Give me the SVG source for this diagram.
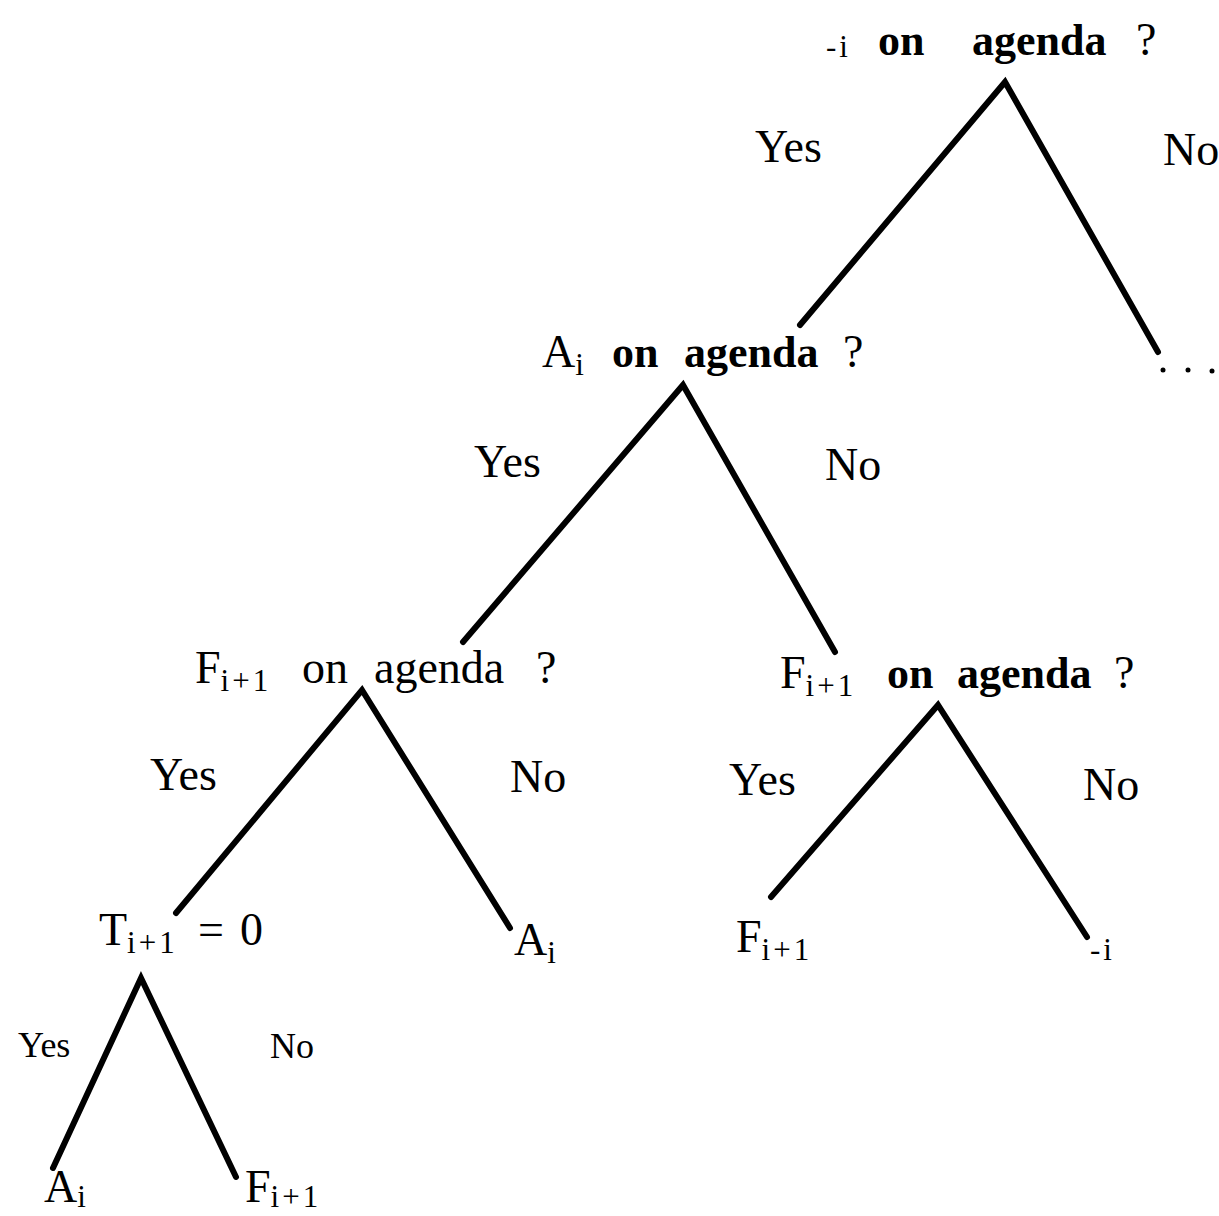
<svg xmlns="http://www.w3.org/2000/svg" width="1219" height="1216" viewBox="0 0 1219 1216">
<style>
text{font-family:"Liberation Serif","Times New Roman",serif;fill:#000}
.t{font-size:46px}
.b{font-size:44px;font-weight:bold}
.s{font-size:31px;letter-spacing:3px}
.l{font-size:36px}
.e{stroke:#000;stroke-width:6;stroke-linecap:round;fill:none}
</style>
<rect width="1219" height="1216" fill="#fff"/>
<g id="connectors">
<path class="e" d="M800,325 L1005,82 L1158,352"/>
<path class="e" d="M463,642 L683,385 L835,652"/>
<path class="e" d="M176,913 L362,690 L510,928"/>
<path class="e" d="M771,897 L938,705 L1087,937"/>
<path class="e" d="M53,1168 L141,978 L236,1177"/>
<text class="t" x="755" y="162">Yes</text>
<text class="t" x="1163" y="165">No</text>
<text class="t" x="474" y="477">Yes</text>
<text class="t" x="825" y="480">No</text>
<text class="t" x="150" y="790">Yes</text>
<text class="t" x="510" y="792">No</text>
<text class="t" x="729" y="795">Yes</text>
<text class="t" x="1083" y="800">No</text>
<text class="l" x="18" y="1057">Yes</text>
<text class="l" x="270" y="1058">No</text>
</g>
<g id="n1">
<text class="s" x="826" y="57">-i</text>
<text class="b" x="878" y="55">on</text>
<text class="b" x="972" y="55">agenda</text>
<text class="t" x="1136" y="55">?</text>
</g>
<g id="n1no">
<circle cx="1163" cy="370" r="2.5"/>
<circle cx="1188" cy="370" r="2.5"/>
<circle cx="1212" cy="371" r="2.5"/>
</g>
<g id="n2">
<text class="t" x="542" y="367">A<tspan class="s" dy="8">i</tspan></text>
<text class="b" x="612" y="367">on</text>
<text class="b" x="684" y="367">agenda</text>
<text class="t" x="843" y="367">?</text>
</g>
<g id="n3">
<text class="t" x="195" y="683">F<tspan class="s" dy="8">i+1</tspan></text>
<text class="t" x="302" y="683">on</text>
<text class="t" x="374" y="683">agenda</text>
<text class="t" x="536" y="683">?</text>
</g>
<g id="n4">
<text class="t" x="780" y="688">F<tspan class="s" dy="8">i+1</tspan></text>
<text class="b" x="887" y="688">on</text>
<text class="b" x="957" y="688">agenda</text>
<text class="t" x="1114" y="688">?</text>
</g>
<g id="n5">
<text class="t" x="99" y="945">T<tspan class="s" dy="8">i+1</tspan></text>
<text class="t" x="198" y="945">=</text>
<text class="t" x="240" y="945">0</text>
</g>
<g id="n6">
<text class="t" x="514" y="955">A<tspan class="s" dy="8">i</tspan></text>
</g>
<g id="n7">
<text class="t" x="736" y="952">F<tspan class="s" dy="8">i+1</tspan></text>
</g>
<g id="n8">
<text class="s" x="1090" y="960">-i</text>
</g>
<g id="n9">
<text class="t" x="44" y="1202">A<tspan class="s" dy="5">i</tspan></text>
</g>
<g id="n10">
<text class="t" x="245" y="1202">F<tspan class="s" dy="5">i+1</tspan></text>
</g>
</svg>
